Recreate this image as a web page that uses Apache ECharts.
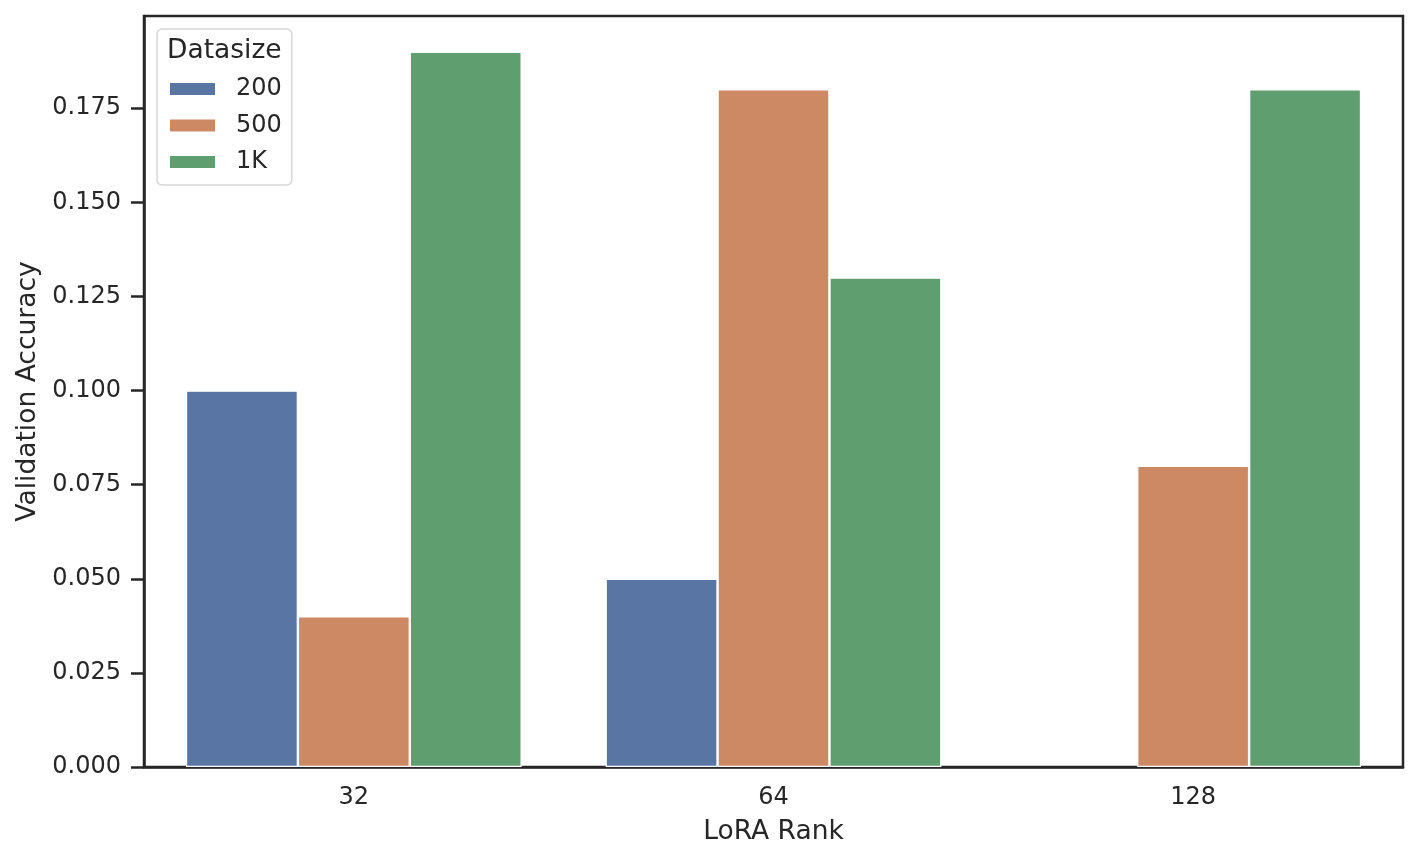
<!DOCTYPE html>
<html><head><meta charset="utf-8">
<script src="https://cdn.jsdelivr.net/npm/echarts@6/dist/echarts.min.js"></script>
<style>html,body{margin:0;padding:0;background:#fff}#c{width:1420px;height:864px}</style>
</head><body><div id="c"></div>
<script>
const categories = ['32', '64', '128'];
const seriesNames = ['200', '500', '1K'];
const values200 = [0.10, 0.05, null];
const values500 = [0.04, 0.18, 0.08];
const values1K = [0.19, 0.13, 0.18];
const yTicks = [0, 0.025, 0.05, 0.075, 0.1, 0.125, 0.15, 0.175];
const colors = ['#5975A4', '#CC8963', '#5F9E6E'];
const FONT = 'DejaVu Sans';
const INK = '#262626';
const chart = echarts.init(document.getElementById('c'));
const allData = [values200, values500, values1K];
chart.setOption({
  animation: false,
  textStyle: { fontFamily: FONT, color: INK },
  grid: { left: 144, right: 17, top: 16, bottom: 97, show: true, borderColor: INK, borderWidth: 2.5, backgroundColor: 'transparent' },
  legend: {
    orient: 'vertical', left: 157, top: 29,
    padding: [48, 10, 11, 11],
    backgroundColor: '#fff', borderColor: '#d6d6d6', borderWidth: 1.5, borderRadius: 5,
    itemWidth: 47, itemHeight: 14, itemGap: 12.5,
    icon: 'rect',
    textStyle: { fontFamily: FONT, fontSize: 24, color: INK, lineHeight: 24, padding: [0, 0, 0, 15] },
    data: seriesNames
  },
  graphic: [{ type: 'text', left: 167, top: 38, z: 100, style: { text: 'Datasize', font: '26.5px "DejaVu Sans"', fill: INK } }],
  xAxis: {
    type: 'category', data: categories,
    axisLine: { lineStyle: { color: INK, width: 2.5 } },
    axisTick: { alignWithLabel: true, length: 13, lineStyle: { color: INK, width: 2.5 } },
    axisLabel: { fontFamily: FONT, fontSize: 24, color: INK, margin: 19 },
    name: 'LoRA Rank', nameLocation: 'middle', nameGap: 52,
    nameTextStyle: { fontFamily: FONT, fontSize: 26.5, color: INK }
  },
  yAxis: {
    type: 'value', min: 0, max: 0.1995, interval: 0.025,
    splitLine: { show: false },
    axisLine: { show: true, lineStyle: { color: INK, width: 2.5 } },
    axisTick: { show: true, length: 13, customValues: yTicks, lineStyle: { color: INK, width: 2.5 } },
    axisLabel: { fontFamily: FONT, fontSize: 24, color: INK, margin: 23, customValues: yTicks, formatter: v => v.toFixed(3) },
    name: 'Validation Accuracy', nameLocation: 'middle', nameGap: 101,
    nameTextStyle: { fontFamily: FONT, fontSize: 26.5, color: INK }
  },
  series: seriesNames.map((n, i) => ({
    name: n, type: 'bar', data: allData[i],
    barCategoryGap: '20%', barGap: '0%',
    itemStyle: { color: colors[i], borderColor: '#fff', borderWidth: 1.2 }
  }))
});
</script></body></html>
